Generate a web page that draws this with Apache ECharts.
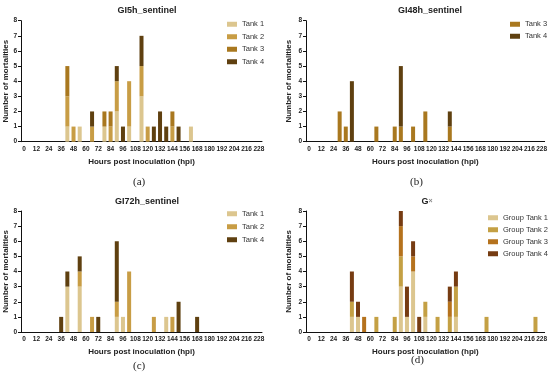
<!DOCTYPE html>
<html>
<head>
<meta charset="utf-8">
<script src="https://cdn.jsdelivr.net/npm/echarts@6/dist/echarts.min.js"></script>
<style>html,body{margin:0;padding:0;background:#fff}#c{width:550px;height:374px}</style>
</head>
<body>
<div id="c"></div>
<script>
// x categories: hours post inoculation (6-hour bins)
var hours = [0,6,12,18,24,30,36,42,48,54,60,66,72,78,84,90,96,102,108,114,120,126,132,138,144,150,156,162,168,174,180,186,192,198,204,210,216,222,228];
var yTicks = [0,1,2,3,4,5,6,7,8];

// (a) GI5h_sentinel  [hour, count]
var a_tank1 = [[42,1],[54,1],[78,1],[90,2],[102,1],[114,3],[162,1]];
var a_tank2 = [[42,2],[48,1],[66,1],[84,1],[90,2],[102,3],[114,2],[120,1],[144,1]];
var a_tank3 = [[42,2],[78,1],[84,1],[144,1]];
var a_tank4 = [[66,1],[90,1],[96,1],[114,2],[126,1],[132,2],[138,1],[150,1]];
// (b) GI48h_sentinel
var b_tank3 = [[30,2],[36,1],[66,1],[84,1],[90,1],[102,1],[114,2],[138,1]];
var b_tank4 = [[42,4],[90,4],[138,1]];
// (c) GI72h_sentinel
var c_tank1 = [[42,3],[54,3],[90,1],[96,1],[138,1]];
var c_tank2 = [[54,1],[66,1],[90,1],[102,4],[126,1],[144,1]];
var c_tank4 = [[36,1],[42,1],[54,1],[72,1],[90,4],[150,2],[168,1]];
// (d) Gx
var d_tank1 = [[42,1],[48,1],[90,3],[96,1],[102,4],[114,1],[144,1]];
var d_tank2 = [[42,1],[66,1],[84,1],[90,2],[114,1],[126,1],[138,1],[144,2],[174,1],[222,1]];
var d_tank3 = [[54,1],[90,2],[102,1],[138,1]];
var d_tank4 = [[42,2],[48,1],[90,1],[96,2],[102,1],[108,1],[138,1],[144,1]];

var titles = ['GI5h_sentinel','GI48h_sentinel','GI72h_sentinel'];
var captions = ['(a)','(b)','(c)','(d)'];
var xName = 'Hours post inoculation (hpi)';
var yName = 'Number of mortalities';

function full(pairs){
  var arr = hours.map(function(){return 0;});
  pairs.forEach(function(p){ arr[hours.indexOf(p[0])] = p[1]; });
  return arr;
}

var C1 = '#dcc68f', C2 = '#c89d45', C3 = '#a9781f', C4 = '#5f4010';
var G1 = '#dcc68f', G2 = '#c4a044', G3 = '#b5721d', G4 = '#763c12';

var grids = [
  {left:21, top:20.7, width:241, height:121},
  {left:306, top:20.7, width:239, height:121},
  {left:21, top:211, width:241, height:121},
  {left:306, top:211, width:239, height:121}
];

var txt = '#222';
var tickFont = 'Liberation Sans';
var xAxes = grids.map(function(g,i){
  return {
    type:'category', gridIndex:i, data:hours.map(String), boundaryGap:true,
    axisLine:{lineStyle:{color:'#111', width:1}},
    axisTick:{interval:1, alignWithLabel:true, length:3, lineStyle:{color:'#111'}},
    axisLabel:{interval:1, fontSize:6.5, color:txt, margin:4, fontFamily:tickFont, fontWeight:'bold'},
    name:xName, nameLocation:'middle', nameGap:16,
    nameTextStyle:{fontSize:8, fontWeight:'bold', color:txt, fontFamily:'Liberation Sans'}
  };
});
var yAxes = grids.map(function(g,i){
  return {
    type:'value', gridIndex:i, min:yTicks[0], max:yTicks[yTicks.length-1], interval:1,
    splitLine:{show:false},
    axisLine:{show:true, lineStyle:{color:'#111', width:1}},
    axisTick:{show:true, length:3, lineStyle:{color:'#111'}},
    axisLabel:{fontSize:6.5, color:txt, margin:4, fontFamily:tickFont, fontWeight:'bold'},
    name:yName, nameLocation:'middle', nameGap:i%2===0?11:13,
    nameTextStyle:{fontSize:8, fontWeight:'bold', color:txt, fontFamily:'Liberation Sans'}
  };
});

function bar(name, pairs, idx, color){
  return {type:'bar', name:name, xAxisIndex:idx, yAxisIndex:idx, stack:'s'+idx,
    data:full(pairs), barWidth:4, itemStyle:{color:color}, emphasis:{disabled:true}};
}

var series = [
  bar('Tank 1', a_tank1, 0, C1), bar('Tank 2', a_tank2, 0, C2), bar('Tank 3', a_tank3, 0, C3), bar('Tank 4', a_tank4, 0, C4),
  bar('Tank 3', b_tank3, 1, C3), bar('Tank 4', b_tank4, 1, C4),
  bar('Tank 1', c_tank1, 2, C1), bar('Tank 2', c_tank2, 2, C2), bar('Tank 4', c_tank4, 2, C4),
  bar('Group Tank 1', d_tank1, 3, G1), bar('Group Tank 2', d_tank2, 3, G2), bar('Group Tank 3', d_tank3, 3, G3), bar('Group Tank 4', d_tank4, 3, G4)
];

var legBase = {orient:'vertical', itemWidth:10, itemHeight:5, itemGap:3, icon:'rect', padding:0,
  textStyle:{fontSize:7.5, color:'#333', fontFamily:'Liberation Sans', lineHeight:9.5}};
function leg(left, top, data, gap){ return Object.assign({}, legBase, {left:left, top:top, data:data, itemGap:gap}); }

var titleStyle = {fontSize:9, fontWeight:'bold', color:'#222', fontFamily:'Liberation Sans'};
var option = {
  animation:false,
  textStyle:{fontFamily:'Liberation Sans'},
  title:[
    {text:titles[0], left:142, top:1, textAlign:'center', textStyle:titleStyle},
    {text:titles[1], left:425, top:1, textAlign:'center', textStyle:titleStyle},
    {text:titles[2], left:142, top:192, textAlign:'center', textStyle:titleStyle},
    {text:'{g|G}{x|×}', left:422, top:192, textAlign:'center',
      textStyle:{rich:{g:{fontSize:9, fontWeight:'bold', color:'#222', fontFamily:'Liberation Sans'}, x:{fontSize:7, color:'#888', fontFamily:'Liberation Sans'}}}}
  ],
  legend:[
    leg(227, 19.5, ['Tank 1','Tank 2','Tank 3','Tank 4'], 3),
    leg(510, 19.5, [{name:'Tank 3'},{name:'Tank 4'}], 2.5),
    leg(227, 209, ['Tank 1','Tank 2','Tank 4'], 3.5),
    leg(488, 213, ['Group Tank 1','Group Tank 2','Group Tank 3','Group Tank 4'], 2.5)
  ],
  grid:grids,
  xAxis:xAxes,
  yAxis:yAxes,
  series:series,
  graphic:[
    {type:'text', left:133, top:177, style:{text:captions[0], font:'11px "Liberation Serif"', fill:'#222'}},
    {type:'text', left:410, top:177, style:{text:captions[1], font:'11px "Liberation Serif"', fill:'#222'}},
    {type:'text', left:133, top:361, style:{text:captions[2], font:'11px "Liberation Serif"', fill:'#222'}},
    {type:'text', left:411, top:355, style:{text:captions[3], font:'11px "Liberation Serif"', fill:'#222'}}
  ]
};
var chart = echarts.init(document.getElementById('c'), null, {renderer:'canvas'});
chart.setOption(option);
</script>
</body>
</html>
